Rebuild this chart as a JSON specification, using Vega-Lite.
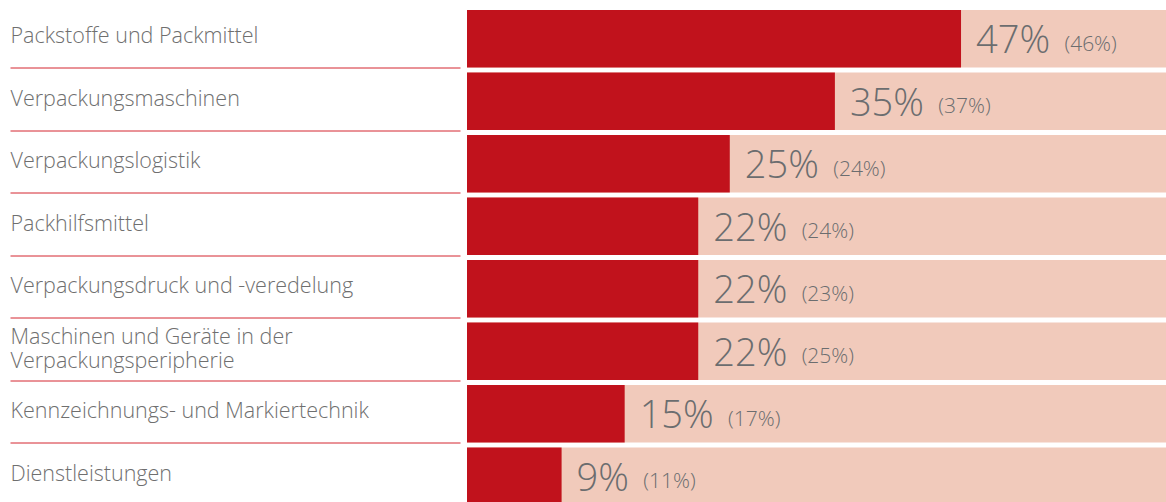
{
  "$schema": "https://vega.github.io/schema/vega-lite/v6.json",
  "width": 699,
  "height": 500,
  "autosize": {"type": "none"},
  "padding": {"left": 467, "top": 7.5, "right": 0, "bottom": 0},
  "background": "white",
  "config": {"view": {"stroke": null}},
  "data": {
    "values": [
      {"cat": "Packstoffe und Packmittel", "pct": 47, "prev": 46, "full": 100},
      {"cat": "Verpackungsmaschinen", "pct": 35, "prev": 37, "full": 100},
      {"cat": "Verpackungslogistik", "pct": 25, "prev": 24, "full": 100},
      {"cat": "Packhilfsmittel", "pct": 22, "prev": 24, "full": 100},
      {"cat": "Verpackungsdruck und -veredelung", "pct": 22, "prev": 23, "full": 100},
      {"cat": "Maschinen und Geräte in der Verpackungsperipherie", "pct": 22, "prev": 25, "full": 100},
      {"cat": "Kennzeichnungs- und Markiertechnik", "pct": 15, "prev": 17, "full": 100},
      {"cat": "Dienstleistungen", "pct": 9, "prev": 11, "full": 100}
    ]
  },
  "transform": [
    {"calculate": "datum.pct + '%'", "as": "pctLabel"},
    {"calculate": "'(' + datum.prev + '%)'", "as": "prevLabel"}
  ],
  "encoding": {
    "y": {
      "field": "cat",
      "type": "nominal",
      "sort": null,
      "scale": {"paddingInner": 0.08, "paddingOuter": 0.04},
      "axis": {
        "title": null,
        "domain": false,
        "ticks": true,
        "tickBand": "extent",
        "tickSize": 450,
        "tickWidth": 1,
        "tickColor": {"condition": {"test": "datum.extra", "value": "transparent"}, "value": "#d42630"},
        "offset": 7,
        "labelAlign": "left",
        "labelPadding": 0,
        "labelBaseline": "middle",
        "labelFont": "Open Sans",
        "labelFontWeight": 300,
        "labelFontSize": 21.5,
        "labelColor": "#6f6f6f",
        "labelLimit": 0,
        "labelLineHeight": 24,
        "labelOffset": {"condition": {"test": "datum.value == 'Maschinen und Geräte in der Verpackungsperipherie'", "value": -13.5}, "value": -2},
        "labelExpr": "datum.value == 'Maschinen und Geräte in der Verpackungsperipherie' ? ['Maschinen und Geräte in der', 'Verpackungsperipherie'] : datum.value"
      }
    }
  },
  "layer": [
    {
      "mark": {"type": "bar", "color": "#f1cabb", "clip": true},
      "encoding": {
        "x": {"field": "full", "type": "quantitative", "scale": {"domain": [0, 66.5], "nice": false, "zero": true}, "axis": null}
      }
    },
    {
      "mark": {"type": "bar", "color": "#c1121c"},
      "encoding": {
        "x": {"field": "pct", "type": "quantitative", "axis": null}
      }
    },
    {
      "mark": {"type": "text", "align": "left", "baseline": "alphabetic", "dx": 15, "dy": 14.5, "font": "Open Sans", "fontWeight": 300, "fontSize": 38, "color": "#6b6d6f"},
      "encoding": {
        "x": {"field": "pct", "type": "quantitative"},
        "text": {"field": "pctLabel"}
      }
    },
    {
      "mark": {"type": "text", "align": "left", "baseline": "alphabetic", "dx": {"expr": "15 + 21.7 * length(toString(datum.pct)) + 32 + 13"}, "dy": 12, "font": "Open Sans", "fontWeight": 300, "fontSize": 21, "color": "#6b6d6f"},
      "encoding": {
        "x": {"field": "pct", "type": "quantitative"},
        "text": {"field": "prevLabel"}
      }
    }
  ]
}
